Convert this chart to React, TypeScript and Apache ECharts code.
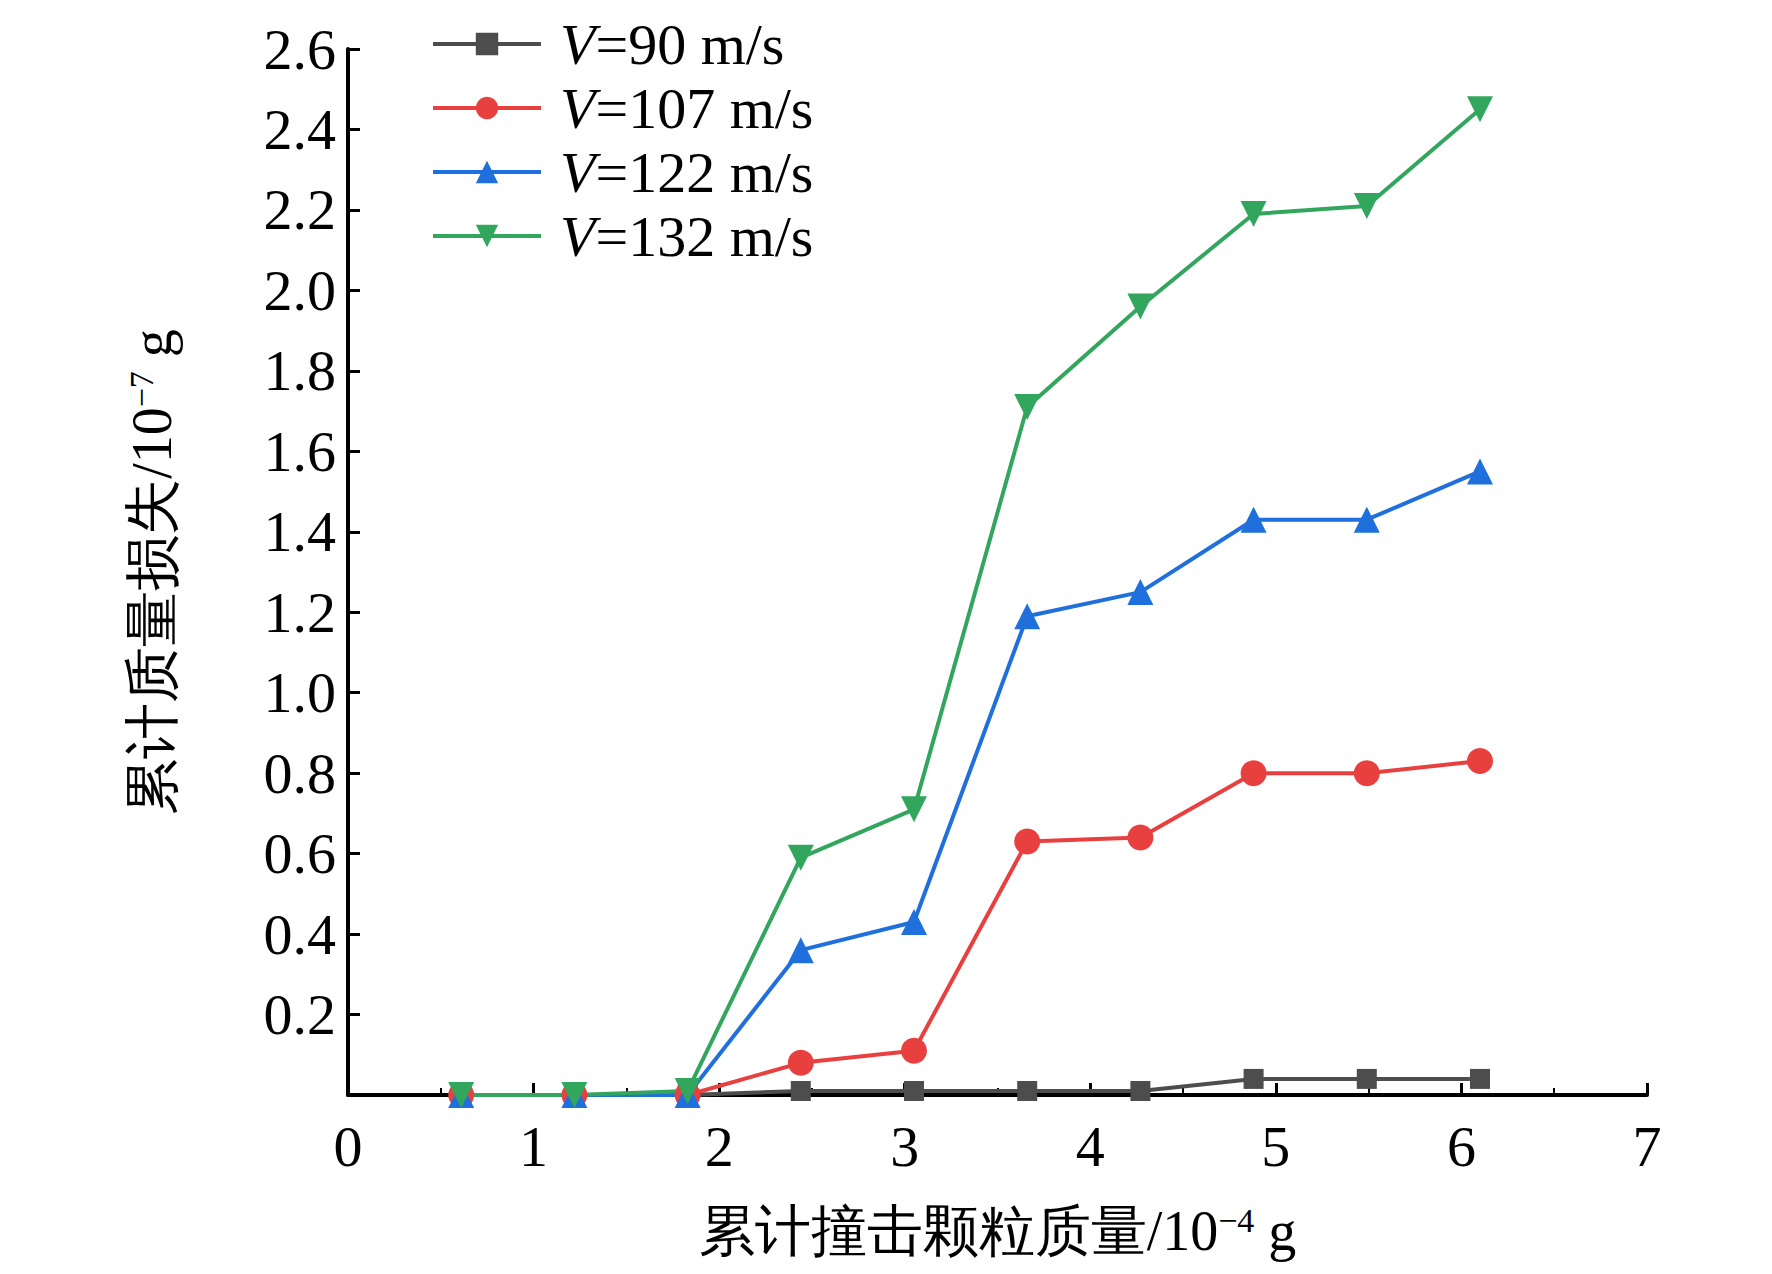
import * as echarts from "echarts";
import { useEffect, useRef } from "react";

const X = [0.61, 1.22, 1.83, 2.44, 3.05, 3.66, 4.27, 4.88, 5.49, 6.1];
const V90 = [0, 0, 0, 0.01, 0.01, 0.01, 0.01, 0.04, 0.04, 0.04];
const V107 = [0, 0, 0, 0.08, 0.11, 0.63, 0.64, 0.8, 0.8, 0.83];
const V122 = [0, 0, 0, 0.36, 0.43, 1.19, 1.25, 1.43, 1.43, 1.55];
const V132 = [0, 0, 0.01, 0.59, 0.71, 1.71, 1.96, 2.19, 2.21, 2.45];
const NAMES = ["90", "107", "122", "132"];
const COLORS = ["#4d4d4d", "#e8403f", "#1f6fdc", "#33a65e"];
const SYMBOLS = ["rect", "circle", "triangle", "path://M0,0 L10,0 L5,9 Z"];

const FONT = "Liberation Serif, Times New Roman, serif";

export default function App() {
  const ref = useRef<HTMLDivElement>(null);
  useEffect(() => {
    const chart = echarts.init(ref.current!, null, { renderer: "svg" });
    const data = [V90, V107, V122, V132];
    chart.setOption({
      animation: false,
      textStyle: { fontFamily: FONT },
      grid: { left: 340, right: 117, top: 41, bottom: 187 },
      legend: {
        orient: "vertical",
        left: 418,
        top: 2,
        itemGap: 6,
        itemWidth: 108,
        itemHeight: 28,
        lineStyle: { width: 4 },
        textStyle: {
          fontFamily: FONT,
          fontSize: 58,
          color: "#000",
          padding: [0, 0, 0, 14],
          rich: { i: { fontStyle: "italic", fontSize: 58, fontFamily: FONT } },
        },
        formatter: (n: string) => `{i|V}=${n} m/s`,
        data: NAMES,
      },
      xAxis: {
        type: "value",
        min: 0,
        max: 7,
        interval: 1,
        axisLine: { lineStyle: { color: "#000", width: 4 } },
        axisTick: { inside: true, length: 12, lineStyle: { width: 3 } },
        minorTick: { show: true, splitNumber: 2, length: 7, lineStyle: { color: "#000", width: 2 } },
        splitLine: { show: false },
        axisLabel: { fontSize: 58, color: "#000", margin: 22, fontFamily: FONT },
        name: "累计撞击颗粒质量/10{s|−4} g",
        nameLocation: "middle",
        nameGap: 108,
        nameTextStyle: {
          fontSize: 56,
          color: "#000",
          fontFamily: FONT,
          rich: { s: { fontSize: 34, verticalAlign: "top", padding: [0, 0, 22, 0] } },
        },
      },
      yAxis: {
        type: "value",
        min: 0,
        max: 2.6,
        interval: 0.2,
        axisLine: { show: true, lineStyle: { color: "#000", width: 4 } },
        axisTick: { inside: true, length: 12, lineStyle: { width: 3 } },
        splitLine: { show: false },
        axisLabel: {
          fontSize: 58,
          color: "#000",
          margin: 12,
          fontFamily: FONT,
          formatter: (v: number) => (v === 0 ? "" : v.toFixed(1)),
        },
        name: "累计质量损失/10{s|−7} g",
        nameLocation: "middle",
        nameGap: 168,
        nameTextStyle: {
          fontSize: 56,
          color: "#000",
          fontFamily: FONT,
          rich: { s: { fontSize: 34, verticalAlign: "top", padding: [0, 0, 22, 0] } },
        },
      },
      series: NAMES.map((n, i) => ({
        name: n,
        type: "line",
        data: X.map((x, j) => [x, data[i][j]]),
        symbol: SYMBOLS[i],
        symbolSize: i === 0 ? 20 : 26,
        lineStyle: { color: COLORS[i], width: 4 },
        itemStyle: { color: COLORS[i] },
      })),
    });
    return () => chart.dispose();
  }, []);
  return <div ref={ref} style={{ width: 1756, height: 1274 }} />;
}
